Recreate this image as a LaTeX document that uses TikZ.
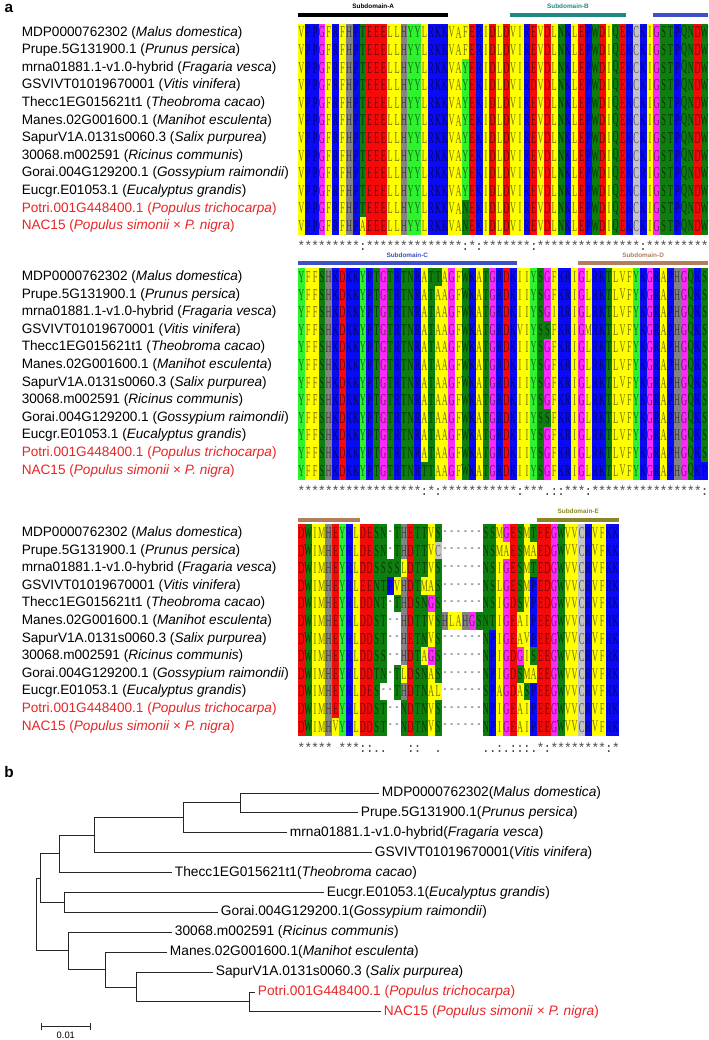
\documentclass[tikz,border=0pt]{standalone}
\usepackage{fontspec}
\setmainfont{Liberation Sans}
\newfontfamily\resfont[FakeStretch=0.5]{Liberation Serif}
\newfontfamily\consfont{Liberation Mono}
\definecolor{hydrocol}{HTML}{FFFF00}
\definecolor{basiccol}{HTML}{0A0AF5}
\definecolor{acidcol}{HTML}{F50A0A}
\definecolor{polarcol}{HTML}{0E7E0E}
\definecolor{tyrcol}{HTML}{2EF22E}
\definecolor{glycol}{HTML}{FA2AFA}
\definecolor{histcol}{HTML}{838383}
\definecolor{cyscol}{HTML}{C4C4C4}
\definecolor{namered}{HTML}{E82424}
\definecolor{subAcol}{HTML}{000000}
\definecolor{subBcol}{HTML}{1E8985}
\definecolor{subCcol}{HTML}{3E4EC4}
\definecolor{subDcol}{HTML}{B27C5E}
\definecolor{subEcol}{HTML}{8A8527}
\makeatletter
\newcount\aln@k
\def\alncw{6.8333}
\def\alnrh{17.6}
\def\aln@map#1#2{\@for\aln@c:=#1\do{\expandafter\edef\csname alncol@\aln@c\endcsname{#2}}}
\aln@map{A,V,I,L,M,F}{hydrocol}
\aln@map{R,K,P}{basiccol}
\aln@map{D,E}{acidcol}
\aln@map{N,Q,S,T,W}{polarcol}
\aln@map{Y}{tyrcol}
\aln@map{G}{glycol}
\aln@map{H}{histcol}
\aln@map{C}{cyscol}
\aln@map{-}{white}
% one row of coloured residues: x0, top y, sequence
\newcommand{\alnrow}[3]{\def\aln@x{#1}\pgfmathsetmacro\aln@y{#2}\edef\aln@s{#3}\expandafter\aln@next\aln@s\@nil}
\def\aln@next#1{\ifx#1\@nil\else\aln@cell#1\expandafter\aln@next\fi}
\def\aln@cell#1{%
  \edef\aln@col{\csname alncol@#1\endcsname}%
  \global\advance\aln@k by 1
  \fill[fill=\aln@col] (\aln@x,\aln@y) rectangle ++(\alncw+0.3,\alnrh+0.3);
  \node[alnres,text=\aln@col!45!black] (aa\the\aln@k) at (\aln@x+0.5*\alncw,\aln@y+0.5*\alnrh) {#1};
  \pgfmathsetmacro\aln@x{\aln@x+\alncw}}
% conservation line: x0, baseline y, string (x = blank)
\newcommand{\alncons}[3]{\def\aln@x{#1}\pgfmathsetmacro\aln@y{#2}\edef\aln@s{#3}\expandafter\aln@cnext\aln@s\@nil}
\def\aln@cnext#1{\ifx#1\@nil\else\aln@ccell#1\expandafter\aln@cnext\fi}
\def\aln@ccell#1{%
  \ifx#1x\else
    \global\advance\aln@k by 1
    \node[alncons] (cs\the\aln@k) at (\aln@x+0.5*\alncw,\aln@y) {#1};%
  \fi
  \pgfmathsetmacro\aln@x{\aln@x+\alncw}}
\makeatother
\newcommand{\alnnames}{%
MDP0000762302 (\textit{Malus domestica})/black,%
Prupe.5G131900.1 (\textit{Prunus persica})/black,%
mrna01881.1-v1.0-hybrid (\textit{Fragaria vesca})/black,%
GSVIVT01019670001 (\textit{Vitis vinifera})/black,%
Thecc1EG015621t1 (\textit{Theobroma cacao})/black,%
Manes.02G001600.1 (\textit{Manihot esculenta})/black,%
SapurV1A.0131s0060.3 (\textit{Salix purpurea})/black,%
30068.m002591 (\textit{Ricinus communis})/black,%
Gorai.004G129200.1 (\textit{Gossypium raimondii})/black,%
Eucgr.E01053.1 (\textit{Eucalyptus grandis})/black,%
Potri.001G448400.1 (\textit{Populus trichocarpa})/namered,%
NAC15 (\textit{Populus simonii} × \textit{P. nigra})/namered}

\begin{document}
\begin{tikzpicture}[x=0.75pt,y=-0.75pt,>=latex,
  alnres/.style={font=\resfont\fontsize{12.5}{12.5}\selectfont,inner sep=0pt,anchor=center},
  alncons/.style={font=\consfont\fontsize{10}{10}\selectfont,text=black!70,inner sep=0pt,anchor=base},
  seqname/.style={font=\fontsize{10.2}{12}\selectfont,anchor=west,inner sep=0pt},
  subbar/.style={line width=3pt},
  sublabel/.style={font=\bfseries\fontsize{4.8}{5}\selectfont,inner sep=0pt},
  panel/.style={font=\bfseries\fontsize{11.5}{12}\selectfont,inner sep=0pt},
  leaf/.style={font=\fontsize{10.3}{12}\selectfont,anchor=west,inner sep=2pt},
  branch/.style={line width=0.7pt,black!85}]
  \useasboundingbox (0,0) rectangle (709,1040);

  % ---------- panel a : multiple alignment -------------------
  \node[panel] (pa) at (9,8) {a};
  \foreach \ytop/\b in {23.7/a,268.2/b,524.2/c}
    \foreach \nm/\ncol [count=\i] in \alnnames
      \node[seqname,text=\ncol] (nm\b\i) at (21.5,{\ytop+(\i-0.5)*\alnrh}) {\nm};

  % block 1 : subdomains A, B
  \draw[subbar,subAcol] (298,15) -- (448.3,15);
  \node[sublabel,text=subAcol] (labA) at (373.2,6.5) {Subdomain-A};
  \draw[subbar,subBcol] (509.8,15) -- (626,15);
  \node[sublabel,text=subBcol] (labB) at (567.9,6.5) {Subdomain-B};
  \draw[subbar,subCcol] (653.3,15) -- (708,15);
  \foreach \s [count=\i] in {%
    VPPGFRFHPTEEELLHYYLRKKVAFERIDLDVIREVDLNKLEPWDIQEKCKIGSTPQNDW,
    VPPGFRFHPTEEELLHYYLRKKVAFERIDLDVIREVDLNKLEPWDIQEKCKIGSTPQNDW,
    VPPGFRFHPTEEELLHYYLRKKVAYERIDLDVIREVDLNKLEPWDIQEKCKIGSTPQNDW,
    VPPGFRFHPTEEELLHYYLRKKVAYEKIDLDVIRDVDLNKLEPWDIQEKCKIGSTPQNDW,
    VPPGFRFHPTEEELLHYYLRKKVAYEKIDLDVIREVDLNKLEPWDIQEKCKIGSTPQNDW,
    VPPGFRFHPTEEELLHYYLRKKVAYEKIDLDVIREVDLNKLEPWDIQEKCKIGSTPQNDW,
    VPPGFRFHPTEEELLHYYLRKKVAYEKIDLDVIREVDLNKLEPWDIQEKCKIGSTPQNDW,
    VPPGFRFHPTEEELLHYYLRKKVAYEKIDLDVIREVDLNKLEPWDIQEKCKIGSTPQNDW,
    VPPGFRFHPTEEELLHYYLRKKVAYEKIDLDVIREVDLNKLEPWDIQEKCRIGSTPQNDW,
    VPPGFRFHPTEEELLHYYLRKKVAYEKIDLDVIREVDLNKLEPWDIQEKCRIGSTPQNDW,
    VPPGFRFHPTEEELLHYYLRKKVANEKIDLDVIREVDLNKLEPWDIQEKCKIGSTPQNDW,
    VPPGFRFHPAEEELLHYYLRKKVANEKIDLDVIREVDLNKLEPWDIQEKCKIGSTPQNDW}
    {\alnrow{298}{23.7+(\i-1)*\alnrh}{\s}}
  \alncons{298}{250.5}{*********:**************:*:*******:***************:*********}

  % block 2 : subdomains C, D
  \draw[subbar,subCcol] (298,263) -- (516.7,263);
  \node[sublabel,text=subCcol] (labC) at (407.3,255) {Subdomain-C};
  \draw[subbar,subDcol] (578.2,263) -- (708,263);
  \node[sublabel,text=subDcol] (labD) at (643.1,255) {Subdomain-D};
  \foreach \s [count=\i] in {%
    YFFSHKDKKYPTGTRTNRATTAGFWKATGRDKIIYSGFKRIGLRKTLVFYKGRAPHGQKS,
    YFFSHKDKKYPTGTRTNRATAAGFWKATGRDKIIYSGFKRIGLRKTLVFYKGRAPHGQKS,
    YFFSHKDKKYPTGTRTNRATAAGFWKATGRDKIIYSGIRRIGLRKTLVFYKGRAPHGQKS,
    YFFSHKDKKYPTGTRTNRATAAGFWKATGRDKVIYSSFKRIGMRKTLVFYKGRAPHGQKS,
    YFFSHKDKKYPTGTRTNRATAAGFWKATGRDKIIYSGFKRIGLRKTLVFYKGRAPHGQKS,
    YFFSHKDKKYPTGTRTNRATAAGFWKATGRDKIIYSGFKRIGLRKTLVFYKGRAPHGQKS,
    YFFSHKDKKYPTGTRTNRATAAGFWKATGRDKIIYSGFKRIGLRKTLVFYKGRAPHGQKS,
    YFFSHKDKKYPTGTRTNRATAAGFWKATGRDKIIYSGFKRIGLRKTLVFYKGRAPHGQKS,
    YFFSHKDKKYPTGTRTNRATAAGFWKATGRDKIIYSSFKRIGLRKTLVFYKGRAPHGQKS,
    YFFSHKDKKYPTGTRTNRATAAGFWKATGRDKIIYSGFKRIGLRKTLVFYKGRAPHGQKS,
    YFFSHKDKKYPTGTRTNRATAAGFWKATGRDKIIYSGFKRIGLRKTLVFYKGRAPHGQKS,
    YFFSHKDKKYPTGTRTNRTTAAGFWKATGRDKIIYSGFKRIGLRKTLVFYKGRAPHGQKP}
    {\alnrow{298}{268.2+(\i-1)*\alnrh}{\s}}
  \alncons{298}{495.5}{******************:*:***********:***.::***:****************:}

  % block 3 : end of D, subdomain E
  \draw[subbar,subDcol] (298,520) -- (359.5,520);
  \draw[subbar,subEcol] (537.2,520) -- (619.2,520);
  \node[sublabel,text=subEcol] (labE) at (578.2,511.5) {Subdomain-E};
  \foreach \s [count=\i] in {%
    DWIMHEYRLDESN-THETTVS------SSMGESMTEEGWVVCRVFKK,
    DWIMHEYRLDESN-THDTTVC------NSMAESMAEDGWVVCRVFKK,
    DWIMHEYRLDDSSSSLDTTVS------NSIGESMTEDGWVVCRVFKK,
    DWIMHEYRLEENTPVHDTMAS------NSLGESMPEDGWVVCRVFRK,
    DWIMHEYRLDDNT-THDSNGS------NSIGDSVPEDGWVVCRVFRK,
    DWIMHEYRLDDST--HDTTVSHLAHGSNTIGEAIPEEGWVVCRVFRK,
    DWIMHEYRLDDST--HETNVS------NPIGEAVPEEGWVVCRVFRK,
    DWIMHEYRLDDSS--HDTAGS------NPIGDGISEEGWVVCRVFRK,
    DWIMHEYRLDDTN-TLDSNAS------NPIGDSMAEEGWVVCRVFRK,
    DWIMHEYRLDES--THDTNAL------SPAGDASPEEGWVVCRVFRK,
    DWIMHEYRLDDST--NDTNVS------NPIGEAIPEEGWVVCRVFRK,
    DWIMHVYRLDDST--NDTNVS------NPIGEAIPEEGWVVCRVFRK}
    {\alnrow{298}{524.2+(\i-1)*\alnrh}{\s}}
  \alncons{298}{752}{*****x***::..xxx::xx.xxxxxx..:.:::.*:********:*}

  % ---------- panel b : NJ tree ------------------------------
  \node[panel] (pb) at (9,772) {b};
  \node[leaf] (lMalus) at (379,793.0) {MDP0000762302(\textit{Malus domestica})};
  \node[leaf] (lPrunus) at (358,812.9) {Prupe.5G131900.1(\textit{Prunus persica})};
  \node[leaf] (lFrag) at (287,832.8) {mrna01881.1-v1.0-hybrid(\textit{Fragaria vesca})};
  \node[leaf] (lVitis) at (372,852.7) {GSVIVT01019670001(\textit{Vitis vinifera})};
  \node[leaf] (lTheo) at (172,872.6) {Thecc1EG015621t1(\textit{Theobroma cacao})};
  \node[leaf] (lEuc) at (324,892.5) {Eucgr.E01053.1(\textit{Eucalyptus grandis})};
  \node[leaf] (lGoss) at (218,912.4) {Gorai.004G129200.1(\textit{Gossypium raimondii})};
  \node[leaf] (lRic) at (172,932.3) {30068.m002591 (\textit{Ricinus communis})};
  \node[leaf] (lMan) at (167,952.2) {Manes.02G001600.1(\textit{Manihot esculenta})};
  \node[leaf] (lSal) at (213,972.1) {SapurV1A.0131s0060.3 (\textit{Salix purpurea})};
  \node[leaf,text=namered] (lPotri) at (255,992.0) {Potri.001G448400.1 (\textit{Populus trichocarpa})};
  \node[leaf,text=namered] (lNAC) at (381,1011.9) {NAC15 (\textit{Populus simonii} × \textit{P. nigra})};
  % internal nodes
  \coordinate (nE) at (240.7,802.95);
  \coordinate (nD) at (183,817.9);
  \coordinate (nC) at (94,835.3);
  \coordinate (nB) at (59,853.95);
  \coordinate (nF) at (64.3,902.45);
  \coordinate (nA) at (40.7,878.2);
  \coordinate (nJ) at (249.3,1001.95);
  \coordinate (nI) at (136.7,987.0);
  \coordinate (nH) at (105.3,969.6);
  \coordinate (nG) at (68.3,950.95);
  \coordinate (nR) at (36.7,914.6);
  \draw[branch] (nE) |- (lMalus);
  \draw[branch] (nE) |- (lPrunus);
  \draw[branch] (nD) |- (nE);
  \draw[branch] (nD) |- (lFrag);
  \draw[branch] (nC) |- (nD);
  \draw[branch] (nC) |- (lVitis);
  \draw[branch] (nB) |- (nC);
  \draw[branch] (nB) |- (lTheo);
  \draw[branch] (nA) |- (nB);
  \draw[branch] (nA) |- (nF);
  \draw[branch] (nF) |- (lEuc);
  \draw[branch] (nF) |- (lGoss);
  \draw[branch] (nR) |- (nA);
  \draw[branch] (nR) |- (nG);
  \draw[branch] (nG) |- (lRic);
  \draw[branch] (nG) |- (nH);
  \draw[branch] (nH) |- (lMan);
  \draw[branch] (nH) |- (nI);
  \draw[branch] (nI) |- (lSal);
  \draw[branch] (nI) |- (nJ);
  \draw[branch] (nJ) |- (lPotri);
  \draw[branch] (nJ) |- (lNAC);
  % scale bar
  \coordinate (sbL) at (41.7,1026.7);
  \coordinate (sbR) at (90,1026.7);
  \draw[branch] (sbL) -- (sbR);
  \draw[branch] (sbL) ++(0,-3.5) -- ++(0,7);
  \draw[branch] (sbR) ++(0,-3.5) -- ++(0,7);
  \node[font=\fontsize{7}{8}\selectfont,inner sep=0pt] (sbLab) at (65.8,1035.2) {0.01};
\end{tikzpicture}
\end{document}
